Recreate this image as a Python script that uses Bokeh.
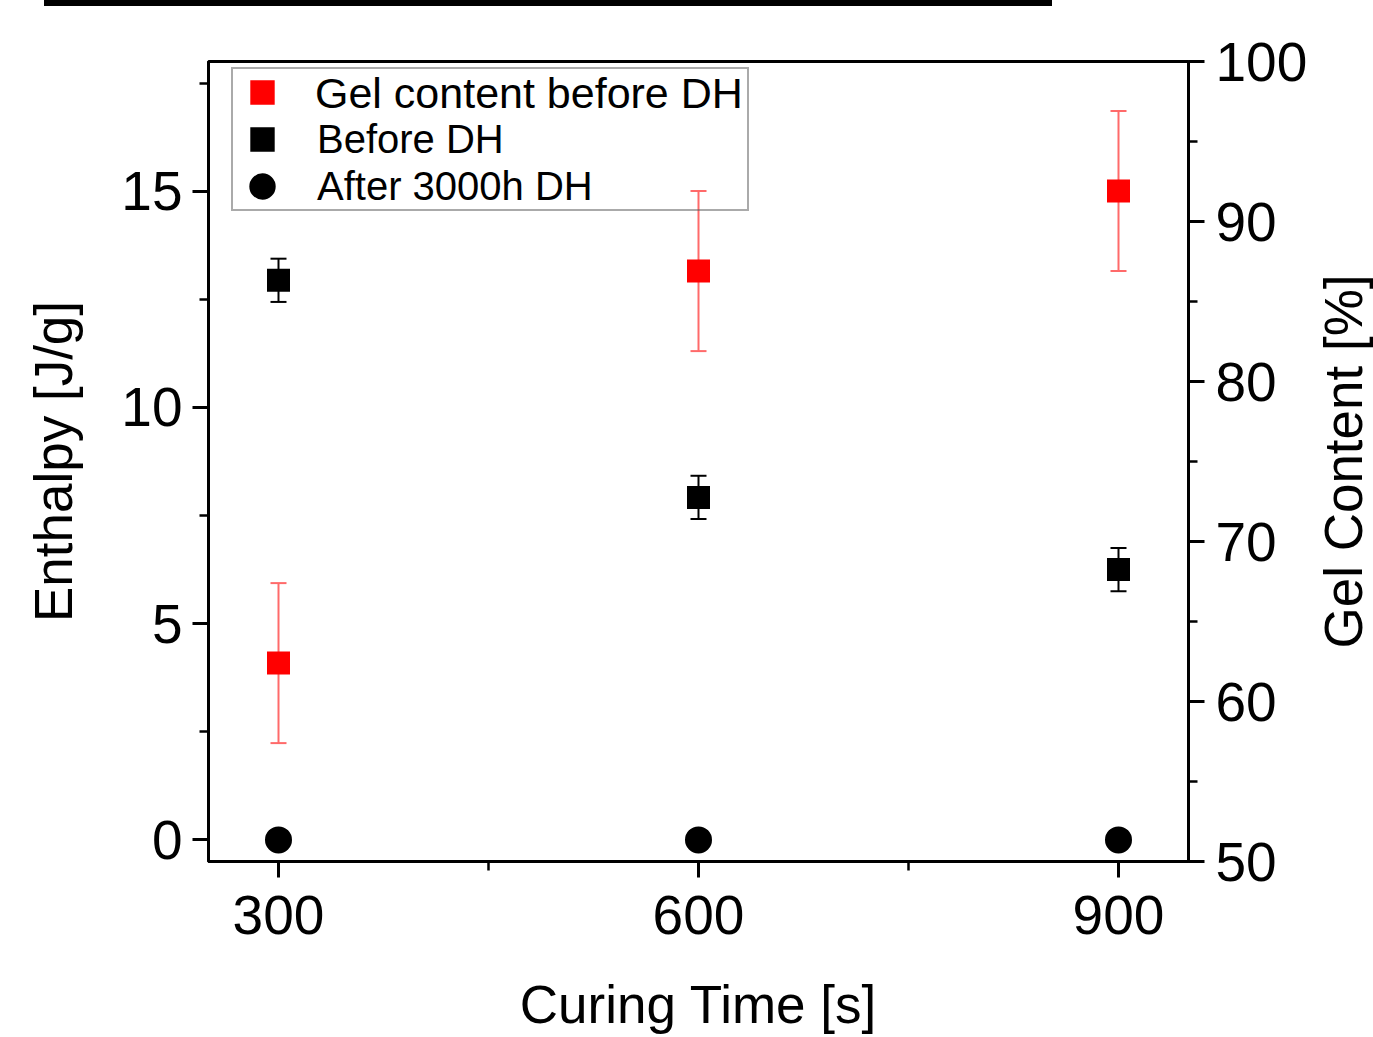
import math
from bokeh.plotting import figure
from bokeh.models import (Range1d, LinearAxis, SingleIntervalTicker, ColumnDataSource,
                          Whisker, TeeHead, Legend, LegendItem, Div, FixedTicker)
from bokeh.layouts import column, row
from bokeh.embed import file_html
from bokeh.resources import INLINE

# ---------------- data ----------------
curing_time = [300, 600, 900]
enthalpy_before = [12.94, 7.92, 6.25]
enthalpy_before_err = [0.5, 0.5, 0.5]
enthalpy_after = [0.0, 0.0, 0.0]
gel_content = [62.4, 86.9, 91.9]
gel_content_err = [5.0, 5.0, 5.0]

series_labels = ["Gel content before DH", "Before DH", "After 3000h DH"]
x_label = "Curing Time [s]"
y_label_left = "Enthalpy [J/g]"
y_label_right = "Gel Content [%]"

FONT = "Liberation Sans"

src_before = ColumnDataSource(dict(
    x=curing_time, y=enthalpy_before,
    upper=[v + e for v, e in zip(enthalpy_before, enthalpy_before_err)],
    lower=[v - e for v, e in zip(enthalpy_before, enthalpy_before_err)]))
src_after = ColumnDataSource(dict(x=curing_time, y=enthalpy_after))
src_gel = ColumnDataSource(dict(
    x=curing_time, y=gel_content,
    upper=[v + e for v, e in zip(gel_content, gel_content_err)],
    lower=[v - e for v, e in zip(gel_content, gel_content_err)]))

p = figure(width=1311, height=1036,
           x_range=Range1d(250, 950), y_range=Range1d(-0.5, 18),
           output_backend="svg", toolbar_location=None,
           min_border_left=208, min_border_right=123,
           min_border_top=61, min_border_bottom=175)
p.border_fill_alpha = 0
p.extra_y_ranges = {"gel": Range1d(50, 100)}
p.xgrid.visible = False
p.ygrid.visible = False
p.outline_line_color = "black"
p.outline_line_width = 3
p.outline_line_alpha = 1.0

p.xaxis.ticker = SingleIntervalTicker(interval=300, num_minor_ticks=2)
p.yaxis.ticker = SingleIntervalTicker(interval=5, num_minor_ticks=2)
p.xaxis.axis_label = x_label
p.yaxis.axis_label = y_label_left

right_axis = LinearAxis(y_range_name="gel",
                        ticker=SingleIntervalTicker(interval=10, num_minor_ticks=2))
p.add_layout(right_axis, "right")


def style(ax):
    ax.axis_line_width = 3
    ax.axis_line_color = "black"
    ax.major_tick_line_width = 3
    ax.minor_tick_line_width = 2.5
    ax.major_tick_line_color = "black"
    ax.minor_tick_line_color = "black"
    ax.major_tick_out = 16
    ax.major_tick_in = 0
    ax.minor_tick_out = 9
    ax.minor_tick_in = 0
    ax.major_label_text_font = FONT
    ax.major_label_text_font_size = "55px"
    ax.major_label_text_color = "black"
    ax.axis_label_text_font = FONT
    ax.axis_label_text_font_size = "53px"
    ax.axis_label_text_font_style = "normal"
    ax.axis_label_text_color = "black"


for ax in [p.xaxis[0], p.yaxis[0], right_axis]:
    style(ax)
p.xaxis.major_label_standoff = 18
p.xaxis.axis_label_standoff = 38
p.yaxis.major_label_standoff = 10
p.yaxis.axis_label_standoff = 35
right_axis.major_label_standoff = 11

# error bars
red_err = "#ff6a6a"
w_gel = Whisker(base="x", upper="upper", lower="lower", source=src_gel,
                dimension="height", y_range_name="gel",
                line_color=red_err, line_width=2,
                upper_head=TeeHead(size=16, line_color=red_err, line_width=2),
                lower_head=TeeHead(size=16, line_color=red_err, line_width=2))
w_before = Whisker(base="x", upper="upper", lower="lower", source=src_before,
                   dimension="height",
                   line_color="black", line_width=2,
                   upper_head=TeeHead(size=16, line_color="black", line_width=2),
                   lower_head=TeeHead(size=16, line_color="black", line_width=2))
p.add_layout(w_gel)
p.add_layout(w_before)

r_gel = p.scatter("x", "y", source=src_gel, y_range_name="gel", marker="square",
                  size=17, fill_color="red", line_color="red", line_width=6,
                  line_join="miter")
r_before = p.scatter("x", "y", source=src_before, marker="square",
                     size=17, fill_color="black", line_color="black", line_width=6,
                     line_join="miter")
r_after = p.scatter("x", "y", source=src_after, marker="circle",
                    size=19, fill_color="black", line_color="black", line_width=8)
# transparent twin, only used to carry the (slightly larger) first legend label
r_gel_text = p.scatter("x", "y", source=src_gel, y_range_name="gel", marker="square",
                       size=17, fill_alpha=0, line_alpha=0)


def legend_style(lg, size):
    lg.label_text_font = FONT
    lg.label_text_font_size = size
    lg.label_text_color = "black"
    lg.glyph_width = 58
    lg.glyph_height = 46
    lg.label_height = 46
    lg.label_standoff = 26
    lg.padding = 0
    lg.spacing = 1
    lg.margin = 0
    lg.background_fill_alpha = 0


legend = Legend(items=[LegendItem(label=" ", renderers=[r_gel]),
                       LegendItem(label=series_labels[1], renderers=[r_before]),
                       LegendItem(label=series_labels[2], renderers=[r_after])],
                location=(23, 650))
legend_style(legend, "40px")
legend.label_width = 430
legend.border_line_color = "#555555"
legend.border_line_width = 2
p.add_layout(legend)

legend_top = Legend(items=[LegendItem(label=series_labels[0], renderers=[r_gel_text])],
                    location=(23, 743))
legend_style(legend_top, "43px")
legend_top.border_line_color = None
p.add_layout(legend_top)

# narrow companion figure that carries the right-hand axis title (reads bottom-to-top)
p2 = figure(width=61, height=1036, x_range=Range1d(0, 1), y_range=Range1d(50, 100),
            output_backend="svg", toolbar_location=None, x_axis_location=None,
            min_border_left=60, min_border_right=0,
            min_border_top=61, min_border_bottom=175)
p2.border_fill_alpha = 0
p2.background_fill_alpha = 0
p2.outline_line_color = None
p2.xgrid.visible = False
p2.ygrid.visible = False
ax2 = p2.yaxis[0]
ax2.ticker = FixedTicker(ticks=[])
ax2.axis_line_color = None
ax2.major_tick_out = 0
ax2.major_tick_in = 0
ax2.minor_tick_out = 0
ax2.minor_tick_in = 0
ax2.major_label_text_font_size = "0px"
ax2.axis_label = y_label_right
ax2.axis_label_text_font = FONT
ax2.axis_label_text_font_size = "53px"
ax2.axis_label_text_font_style = "normal"
ax2.axis_label_text_color = "black"
ax2.axis_label_standoff = 0

bar = Div(width=1008, height=6, styles={"background-color": "black"},
          margin=(0, 0, -6, 44))

layout = column(bar, row(p, p2, spacing=0), spacing=0)

open("out.html", "w").write(file_html(layout, INLINE))
